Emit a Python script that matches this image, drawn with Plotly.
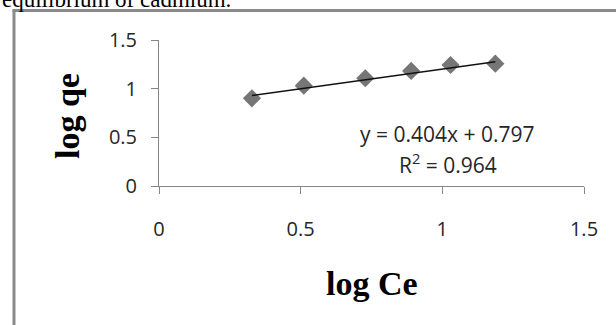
import plotly.graph_objects as go

# Data
log_ce = [0.328, 0.511, 0.728, 0.890, 1.029, 1.187]
log_qe = [0.901, 1.031, 1.107, 1.182, 1.243, 1.257]
slope = 0.404
intercept = 0.797
r_squared = 0.964
tick_vals = [0, 0.5, 1, 1.5]
tick_text = ["0", "0.5", "1", "1.5"]

trend_x = [min(log_ce), max(log_ce)]
trend_y = [slope * v + intercept for v in trend_x]

W, H = 616, 325
X0, X1 = 159, 584   # plot area in window pixels
Y0, Y1 = 40, 186
ML, MT = X0, Y0
MR, MB = W - X1, H - Y1
PW, PH = X1 - X0, Y1 - Y0


def px_x(p):
    return (p - X0) / PW


def px_y(p):
    return (Y1 - p) / PH


fig = go.Figure()
fig.add_trace(go.Scatter(
    x=log_ce, y=log_qe, mode="markers",
    marker=dict(symbol="diamond", size=14, color="#767676", line=dict(width=0)),
    showlegend=False, cliponaxis=False,
))
fig.add_trace(go.Scatter(
    x=trend_x, y=trend_y, mode="lines",
    line=dict(color="#111111", width=1.5),
    showlegend=False,
))

axis_common = dict(
    range=[0, 1.5], tickvals=tick_vals, ticktext=tick_text,
    showgrid=False, zeroline=False, showline=True,
    linecolor="#868686", linewidth=1,
    ticks="outside", tickcolor="#868686", ticklen=7, tickwidth=1,
    tickfont=dict(family="Open Sans", size=20, color="#262626"),
)

fig.update_xaxes(**axis_common, ticklabelstandoff=18)
fig.update_yaxes(**axis_common, ticklabelstandoff=10)

ann_font = dict(family="Open Sans", size=21, color="#262626")
annotations = [
    dict(text=f"y = {slope}x + {intercept}", x=px_x(447), y=px_y(134),
         xref="paper", yref="paper", showarrow=False, font=ann_font,
         xanchor="center", yanchor="middle"),
    dict(text=f"R<sup>2</sup> = {r_squared}", x=px_x(448), y=px_y(163),
         xref="paper", yref="paper", showarrow=False, font=ann_font,
         xanchor="center", yanchor="middle"),
    dict(text="<b>log Ce</b>", x=px_x(372), y=px_y(283),
         xref="paper", yref="paper", showarrow=False,
         font=dict(family="Liberation Serif", size=34, color="#000000"),
         xanchor="center", yanchor="middle"),
    dict(text="<b>log qe</b>", x=px_x(67), y=px_y(116),
         xref="paper", yref="paper", showarrow=False, textangle=-90,
         font=dict(family="Liberation Serif", size=34, color="#000000"),
         xanchor="center", yanchor="middle"),
    dict(text="equilibrium of cadmium.", x=px_x(0), y=px_y(14),
         xref="paper", yref="paper", showarrow=False,
         font=dict(family="Liberation Serif", size=23, color="#000000"),
         xanchor="left", yanchor="bottom"),
]

shapes = [
    dict(type="line", xref="paper", yref="paper",
         x0=px_x(14), x1=px_x(14), y0=px_y(10.5), y1=px_y(340),
         line=dict(color="#8a8a8a", width=3)),
    dict(type="line", xref="paper", yref="paper",
         x0=px_x(12.5), x1=px_x(630), y0=px_y(10.5), y1=px_y(10.5),
         line=dict(color="#8a8a8a", width=3)),
]

fig.update_layout(
    width=W, height=H,
    margin=dict(l=ML, r=MR, t=MT, b=MB, pad=0),
    paper_bgcolor="white", plot_bgcolor="white",
    annotations=annotations, shapes=shapes,
    showlegend=False,
)

fig.write_html(
    "out.html",
    config={"displayModeBar": False},
    post_script="document.body.style.margin='0';document.body.style.overflow='hidden';",
)
